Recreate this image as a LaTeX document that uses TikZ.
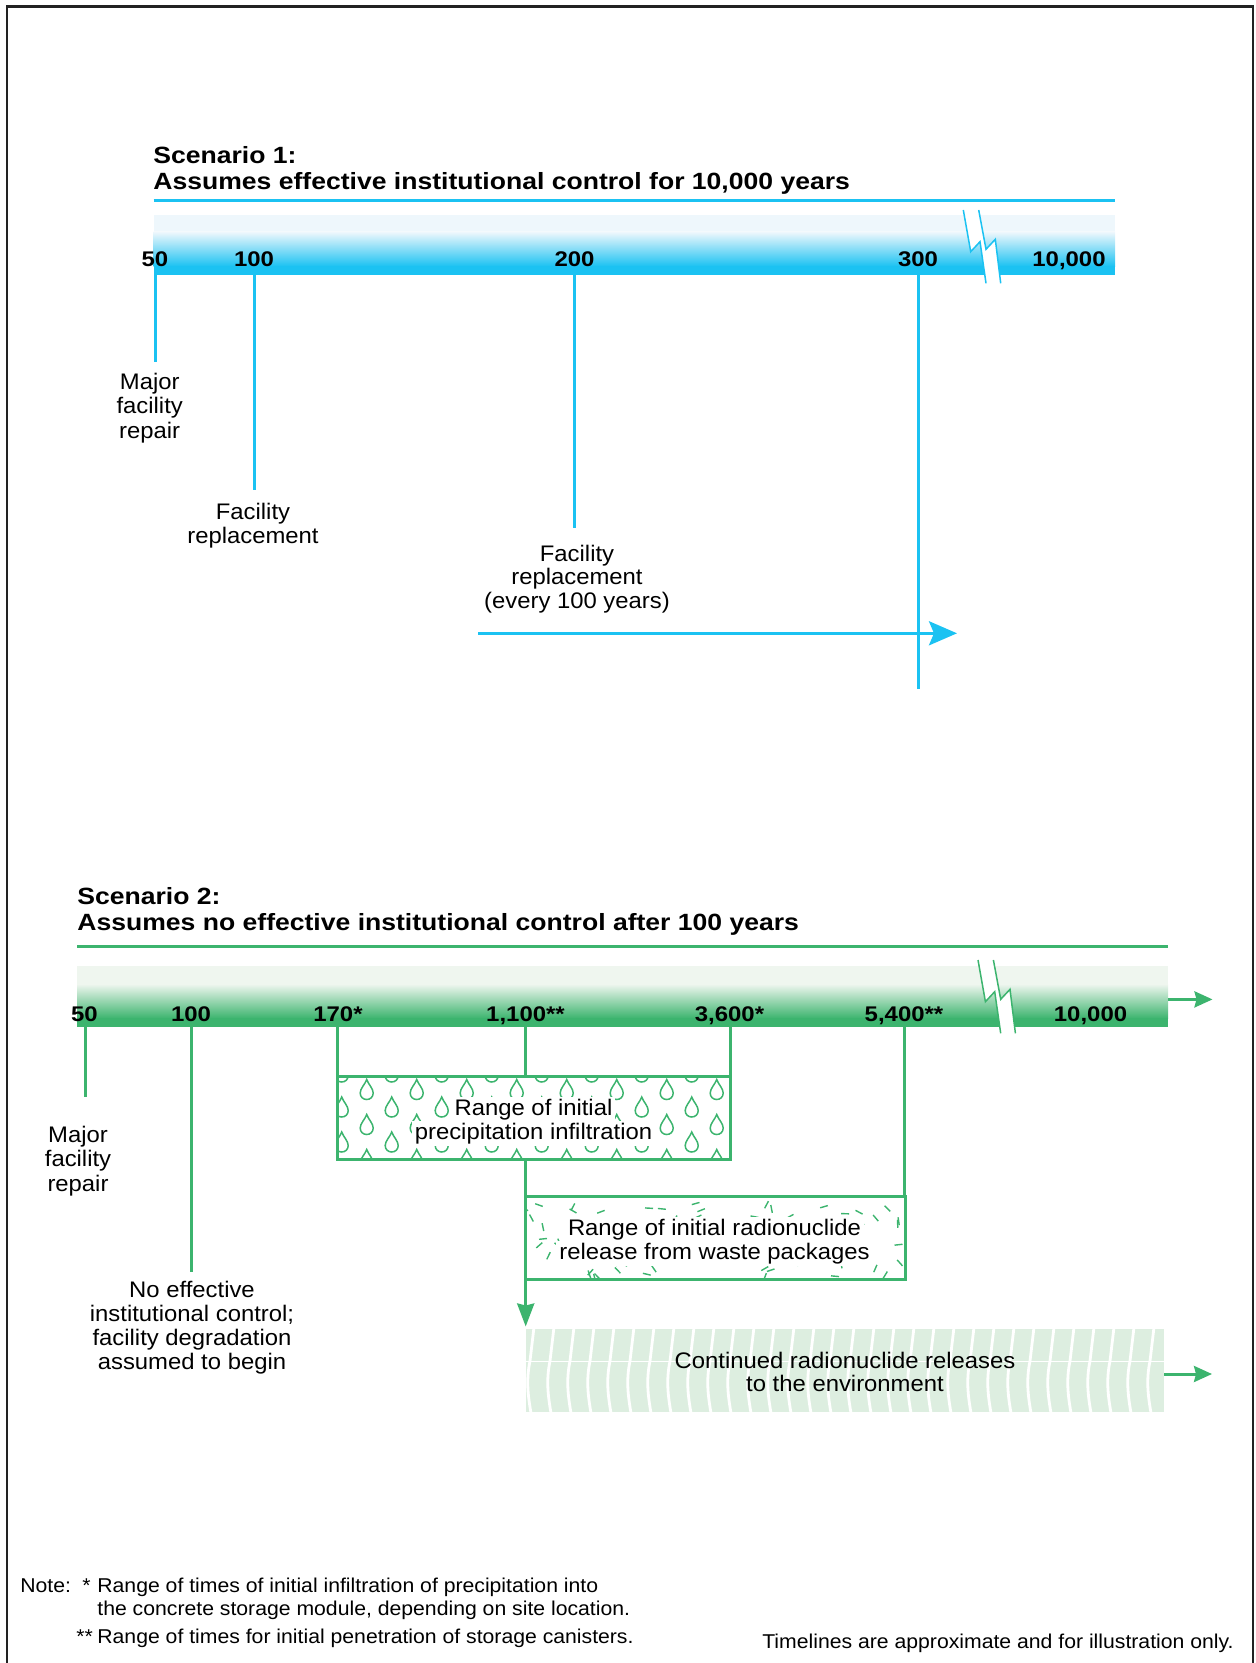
\documentclass[tikz,border=0pt]{standalone}
\usepackage{fontspec}
\setmainfont{Liberation Sans}[FakeStretch=1.06]
\newfontfamily\hdfont{Liberation Sans}[FakeStretch=1.13]
\usetikzlibrary{arrows.meta}
\definecolor{cy}{HTML}{1BC2F2}
\definecolor{cypale}{HTML}{EEF7FC}
\definecolor{gr}{HTML}{3CB46E}
\definecolor{grpale}{HTML}{EFF6EF}
\definecolor{grfill}{HTML}{DDEEE0}
\definecolor{frm}{HTML}{222222}
\newcommand\mylbl{\fontsize{11.25pt}{12pt}\selectfont}
\newcommand\myttl{\hdfont\bfseries\fontsize{11.75pt}{13pt}\selectfont}
\newcommand\mytck{\hdfont\bfseries\fontsize{10.6pt}{12pt}\selectfont}
\newcommand\mynte{\fontsize{10pt}{11.7pt}\selectfont}
\tikzset{
  drop/.pic={\draw[gr, line width=0.75pt] (0,-10) .. controls (-1.8,-5) and (-6.5,-1) .. (-6.5,3.5) .. controls (-6.5,7.5) and (-3.5,10) .. (0,10) .. controls (3.5,10) and (6.5,7.5) .. (6.5,3.5) .. controls (6.5,-1) and (1.8,-5) .. cycle;}
}
\begin{document}
\begin{tikzpicture}[x=0.5pt,y=-0.5pt,
  lbl/.style={inner sep=0pt, anchor=base, font=\mylbl, text=black},
  wlbl/.style={lbl, fill=white, inner xsep=1.5pt, inner ysep=1pt},
  ttl/.style={inner sep=0pt, anchor=base west, font=\myttl, text=black},
  tck/.style={inner sep=0pt, anchor=base, font=\mytck, text=black},
  nte/.style={inner sep=0pt, anchor=base west, font=\mynte, text=black},
  bline/.style={draw=cy, line width=1.5pt},
  gline/.style={draw=gr, line width=1.5pt},
  brk/.style={line width=0.75pt},
  framestyle/.style={draw=frm, line width=1.25pt}]
\useasboundingbox (0,0) rectangle (1255,1663);
% frame
\coordinate (fbl) at (7,1663);
\coordinate (ftl) at (7,6.5);
\coordinate (ftr) at (1253,6.5);
\coordinate (fbr) at (1253,1663);
\draw[framestyle] (fbl) -- (ftl) -- (ftr) -- (fbr);

% ================= Scenario 1 =================
\node[ttl] (s1a) at (153,163.3) {Scenario 1:};
\node[ttl] (s1b) at (153,189.5) {Assumes effective institutional control for 10,000 years};
\coordinate (r1s) at (153.5,200.5);
\coordinate (r1e) at (1115,200.5);
\draw[bline] (r1s) -- (r1e);
% band
\fill[cypale] (153.5,215) rectangle (1115,232.5);
\shade[top color=cypale, bottom color=cy] (153.5,232) rectangle (1115,266.5);
\fill[cy] (153.5,266) rectangle (1115,275);
% break
\fill[white] (963.3,210) -- (970.7,251.7) -- (980,241.7) -- (986,283.3) -- (1000.7,283.3) -- (995.3,239.3) -- (986,249.3) -- (978.7,210) -- cycle;
\draw[cy, brk] (963.3,210) -- (970.7,251.7) -- (980,241.7) -- (986,283.3);
\draw[cy, brk] (978.7,210) -- (986,249.3) -- (995.3,239.3) -- (1000.7,283.3);
% tick labels
\node[tck] (t50) at (155,267) {50};
\node[tck] (t100) at (254,267) {100};
\node[tck] (t200) at (574.5,267) {200};
\node[tck] (t300) at (918,267) {300};
\node[tck] (t10k) at (1069,267) {10,000};
% ticks
\coordinate (b50) at (155,274);   \coordinate (e50) at (155,362);
\coordinate (b100) at (254,274);  \coordinate (e100) at (254,490);
\coordinate (b200) at (574.5,274);\coordinate (e200) at (574.5,528);
\coordinate (b300) at (918,274);  \coordinate (e300) at (918,689);
\draw[bline] (b50) -- (e50);
\draw[bline] (b100) -- (e100);
\draw[bline] (b200) -- (e200);
\draw[bline] (b300) -- (e300);
% arrow
\coordinate (a1s) at (478,633.3);
\coordinate (a1e) at (957,633.3);
\draw[bline, -{Stealth[length=14pt,width=12pt,inset=2.5pt]}] (a1s) -- (a1e);
% labels
\node[lbl] (m1a) at (149.7,390) {Major};
\node[lbl] (m1b) at (149.7,414) {facility};
\node[lbl] (m1c) at (149.7,438) {repair};
\node[lbl] (f1a) at (253,519) {Facility};
\node[lbl] (f1b) at (253,543) {replacement};
\node[lbl] (f2a) at (577,561) {Facility};
\node[lbl] (f2b) at (577,584.5) {replacement};
\node[lbl] (f2c) at (577,608) {(every 100 years)};

% ================= Scenario 2 =================
\node[ttl] (s2a) at (77,904) {Scenario 2:};
\node[ttl] (s2b) at (77,930) {Assumes no effective institutional control after 100 years};
\coordinate (r2s) at (77,946.5);
\coordinate (r2e) at (1168,946.5);
\draw[gline] (r2s) -- (r2e);
% band
\fill[grpale] (77,966) rectangle (1168,984.5);
\shade[top color=grpale, bottom color=gr] (77,984) rectangle (1168,1018.5);
\fill[gr] (77,1018) rectangle (1168,1027);
% break
\fill[white] (978,960) -- (985.4,1001.7) -- (994.7,991.7) -- (1000.7,1033.3) -- (1015.4,1033.3) -- (1010,989.3) -- (1000.7,999.3) -- (993.4,960) -- cycle;
\draw[gr, brk] (978,960) -- (985.4,1001.7) -- (994.7,991.7) -- (1000.7,1033.3);
\draw[gr, brk] (993.4,960) -- (1000.7,999.3) -- (1010,989.3) -- (1015.4,1033.3);
% tick labels
\node[tck] (u50) at (84.5,1021.5) {50};
\node[tck] (u100) at (191,1021.5) {100};
\node[tck] (u170) at (338,1021.5) {170*};
\node[tck] (u1100) at (525.5,1021.5) {1,100**};
\node[tck] (u3600) at (729.5,1021.5) {3,600*};
\node[tck] (u5400) at (904,1021.5) {5,400**};
\node[tck] (u10k) at (1090.5,1021.5) {10,000};
% band arrow
\coordinate (a2s) at (1168,999.4);
\coordinate (a2e) at (1212.5,999.4);
\draw[gline, -{Stealth[length=9pt,width=8pt,inset=1pt]}] (a2s) -- (a2e);

% precipitation box
\node[inner sep=0pt, minimum width=196.35pt, minimum height=41.25pt, anchor=north west] (pbox) at (337.3,1076.5) {};
\begin{scope}
\clip (pbox.north west) rectangle (pbox.south east);
\foreach \i in {0,...,15}{
  \pgfmathsetmacro\dx{341.7+25*\i}
  \pgfmathsetmacro\dy{mod(\i,2)==0 ? 1072 : 1089.5}
  \foreach \j in {0,1,2}{
    \pic at (\dx,{\dy+35*\j}) {drop};
  }
}
\end{scope}
\node[wlbl] (p1) at (533.5,1115) {Range of initial};
\node[wlbl] (p2) at (533.5,1139) {precipitation infiltration};

% release box
\node[inner sep=0pt, minimum width=189.4pt, minimum height=41.25pt, anchor=north west] (rbox) at (525.7,1196.5) {};
\begin{scope}
\clip (rbox.north west) rectangle (rbox.south east);
\pgfmathsetseed{7}
\foreach \k in {1,...,80}{
  \pgfmathsetmacro\qx{528+375*rnd}
  \pgfmathsetmacro\qy{1200+76*rnd}
  \pgfmathsetmacro\qa{180*rnd}
  \draw[gr, line width=0.7pt] (\qx,\qy) -- ++(\qa:8);
}
\end{scope}
\node[wlbl] (q1) at (714.5,1235) {Range of initial radionuclide};
\node[wlbl] (q2) at (714.5,1259) {release from waste packages};

% continued releases band
\fill[grfill] (526,1328.5) rectangle (1164,1411.5);
\foreach \i in {0,...,31}{
  \pgfmathsetmacro\sx{530+20*\i}
  \draw[white, line width=1.4pt] ({\sx+4},1327) -- (\sx,1361) .. controls ({\sx-4},1380) and ({\sx-2},1396) .. ({\sx+1},1413);
}
\draw[white, line width=0.5pt] (526,1361) -- (1164,1361);
\node[lbl] (c1) at (845,1368) {Continued radionuclide releases};
\node[lbl] (c2) at (845,1391) {to the environment};
\coordinate (a3s) at (1164,1374);
\coordinate (a3e) at (1212,1374);
\draw[gline, -{Stealth[length=9pt,width=8pt,inset=1pt]}] (a3s) -- (a3e);

% ticks scenario 2
\coordinate (v50) at (85,1026);      \coordinate (w50) at (85,1096.5);
\coordinate (v100) at (191,1026);    \coordinate (w100) at (191,1272);
\coordinate (v170) at (337.3,1026);  \coordinate (w170) at (337.3,1076.5);
\coordinate (v1100) at (525.7,1026); \coordinate (w1100) at (525.7,1076.5);
\coordinate (v3600) at (730,1026);   \coordinate (w3600) at (730,1076.5);
\coordinate (v5400) at (904.5,1026); \coordinate (w5400) at (904.5,1196.5);
\draw[gline] (v50) -- (w50);
\draw[gline] (v100) -- (w100);
\draw[gline] (v170) -- (w170);
\draw[gline] (v1100) -- (w1100);
\draw[gline] (v3600) -- (w3600);
\draw[gline] (v5400) -- (w5400);
% boxes outlines
\draw[gline] (pbox.north west) rectangle (pbox.south east);
\draw[gline] (rbox.north west) rectangle (rbox.south east);
% down arrow
\coordinate (d1s) at (525.7,1159);
\coordinate (d1e) at (525.7,1326.5);
\draw[gline, -{Stealth[length=11.5pt,width=8.5pt,inset=1pt]}] (d1s) -- (d1e);

% labels scenario 2
\node[lbl] (m2a) at (78,1142) {Major};
\node[lbl] (m2b) at (78,1166.5) {facility};
\node[lbl] (m2c) at (78,1191) {repair};
\node[lbl] (n2a) at (192,1297) {No effective};
\node[lbl] (n2b) at (192,1321) {institutional control;};
\node[lbl] (n2c) at (192,1345) {facility degradation};
\node[lbl] (n2d) at (192,1369) {assumed to begin};

% notes
\node[nte] (nt0) at (20,1592) {Note:};
\node[nte] (nt1) at (82,1592) {*};
\node[nte] (nt2) at (97,1592) {Range of times of initial infiltration of precipitation into};
\node[nte] (nt3) at (97,1615) {the concrete storage module, depending on site location.};
\node[nte] (nt4) at (76,1643.5) {**};
\node[nte] (nt5) at (97,1643.5) {Range of times for initial penetration of storage canisters.};
\node[nte, anchor=base east] (nt6) at (1234,1648) {Timelines are approximate and for illustration only.};
\end{tikzpicture}
\end{document}
